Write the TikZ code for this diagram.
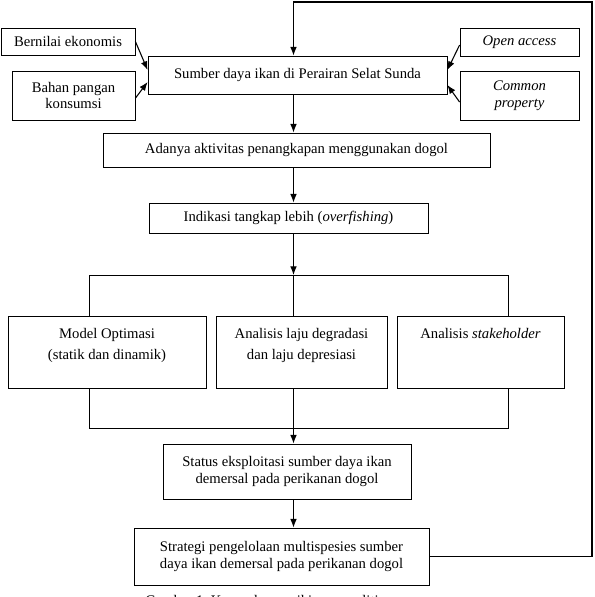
\documentclass[tikz,border=0pt]{standalone}
\usepackage{fontspec}
\setmainfont{Liberation Serif}
\usetikzlibrary{arrows.meta}

\tikzset{
  kotak/.style={draw, line width=0.6pt, inner sep=0pt, align=center,
    font=\fontsize{11}{12.5}\selectfont},
  panah/.style={-{Latex[length=6.5pt,width=5pt]}, line width=0.8pt},
  garis/.style={line width=0.6pt}
}
\newcommand{\isiatas}[2]{\parbox[c][54pt][t]{#1}{\centering\rule{0pt}{17pt}#2}}

\begin{document}
\begin{tikzpicture}[x=0.75pt, y=-0.75pt]
  \useasboundingbox (0,0) rectangle (594,597);
  \clip (0,0) rectangle (594,597);
  % kotak bagian atas
  \node[kotak, minimum width=100.5pt, minimum height=20.25pt] (bernilai) at (68,41.5) {Bernilai ekonomis};
  \node[kotak, minimum width=92.25pt, minimum height=36.75pt] (bahan) at (73.5,95.5) {Bahan pangan\\konsumsi};
  \node[kotak, minimum width=224.25pt, minimum height=28.5pt] (sumber) at (297.5,75) {Sumber daya ikan di Perairan Selat Sunda};
  \node[kotak, minimum width=89.25pt, minimum height=21pt] (open) at (519.5,42) {\textit{Open access}};
  \node[kotak, minimum width=89.25pt, minimum height=36.75pt] (common) at (519.5,95.5) {\textit{Common}\\\textit{property}};
  \node[kotak, minimum width=290.25pt, minimum height=25.5pt] (adanya) at (296.5,150) {Adanya aktivitas penangkapan menggunakan dogol};
  \node[kotak, minimum width=209.25pt, minimum height=22.5pt] (indikasi) at (288.5,218) {Indikasi tangkap lebih (\textit{overfishing})};
  % tiga analisis
  \node[kotak] (model) at (107,352) {\isiatas{148.5pt}{Model Optimasi\\[3pt](statik dan dinamik)}};
  \node[kotak] (laju) at (301.5,352) {\isiatas{128.25pt}{Analisis laju degradasi\\[3pt]dan laju depresiasi}};
  \node[kotak] (stake) at (480.5,352) {\isiatas{125.25pt}{Analisis \textit{stakeholder}}};
  % kotak bagian bawah
  \node[kotak, minimum width=186pt, minimum height=41.25pt] (status) at (287,471.5) {Status eksploitasi sumber daya ikan\\demersal pada perikanan dogol};
  \node[kotak, minimum width=221.25pt, minimum height=42.75pt] (strategi) at (281.5,556.5) {Strategi pengelolaan multispesies sumber\\daya ikan demersal pada perikanan dogol};
  \node[font=\fontsize{11}{12.5}\selectfont, anchor=base west, inner sep=0pt] (judul) at (145,605) {Gambar 1~~Kerangka pemikiran penelitian};

  \coordinate (poros) at (293.5,0);
  \coordinate (cabang) at (293.5,275);
  \coordinate (cabangkiri) at (89,275);
  \coordinate (cabangkanan) at (508,275);
  \coordinate (gabung) at (293.5,428);
  \coordinate (gabungkiri) at (89,428);
  \coordinate (gabungkanan) at (508,428);
  \coordinate (pojok) at (592,2);

  % panah masuk ke sumber daya
  \draw[panah] (bernilai.east) -- ([yshift=3.75pt]sumber.west);
  \draw[panah] ([yshift=-2pt]bahan.east) -- ([yshift=-5.25pt]sumber.west);
  \draw[panah] ([yshift=-2.25pt]open.west) -- ([yshift=3.75pt]sumber.east);
  \draw[panah] ([yshift=-4.9pt]common.west) -- ([yshift=-7.5pt]sumber.east);

  % alur utama
  \draw[panah] (sumber.south -| poros) -- (adanya.north -| poros);
  \draw[panah] (adanya.south -| poros) -- (indikasi.north -| poros);
  \draw[panah] (indikasi.south -| poros) -- (cabang);
  \draw[garis] (model.north -| cabangkiri) -- (cabangkiri) -- (cabangkanan) -- (stake.north -| cabangkanan);
  \draw[garis] (cabang) -- (laju.north -| poros);
  \draw[garis] (model.south -| gabungkiri) -- (gabungkiri) -- (gabungkanan) -- (stake.south -| gabungkanan);
  \draw[garis] (laju.south -| poros) -- (gabung);
  \draw[panah] (gabung) -- (status.north -| poros);
  \draw[panah] (status.south -| poros) -- (strategi.north -| poros);

  % umpan balik
  \draw[panah] (strategi.east) -| (pojok) -| (sumber.north -| poros);
\end{tikzpicture}
\end{document}
